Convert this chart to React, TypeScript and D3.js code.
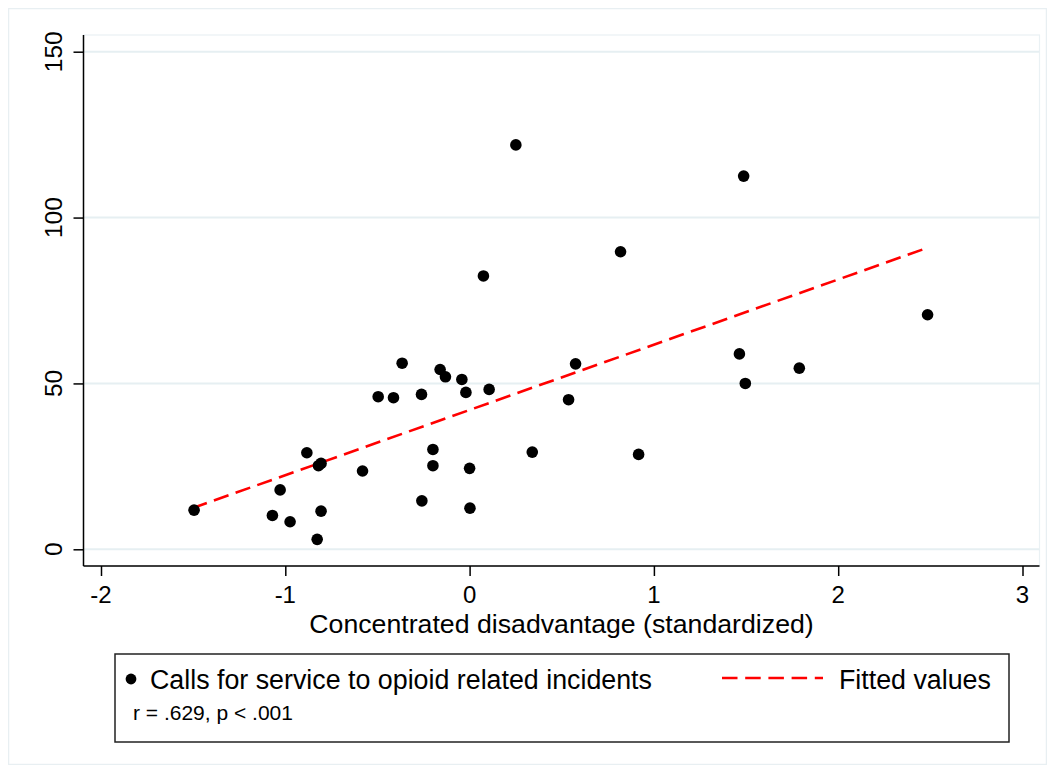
import React, { useEffect, useRef } from 'react';
import * as d3 from 'd3';

// Concentrated disadvantage (standardized)
const disadvantage = [
  -1.495, -1.07, -1.028, -0.974, -0.883, -0.827, -0.806, -0.806, -0.82, -0.581,
  -0.496, -0.413, -0.366, -0.261, -0.259, -0.199, -0.199, -0.16, -0.131, -0.042,
  -0.02, 0.0, 0.002, 0.075, 0.106, 0.251, 0.34, 0.537, 0.575, 0.819,
  0.917, 1.464, 1.487, 1.496, 1.789, 2.485,
];

// Calls for service to opioid related incidents
const calls = [
  11.8, 10.2, 17.9, 8.3, 29.1, 3.0, 11.5, 25.9, 25.2, 23.6,
  46.0, 45.7, 56.1, 46.7, 14.6, 30.1, 25.2, 54.2, 52.0, 51.2,
  47.3, 24.4, 12.4, 82.4, 48.2, 121.9, 29.3, 45.1, 55.9, 89.7,
  28.6, 58.9, 112.5, 50.0, 54.6, 70.7,
];

// Fitted values (line endpoints)
const fitX = [-1.505, 2.46];
const fitY = [12.4, 90.4];

const xTicks = [-2, -1, 0, 1, 2, 3];
const yTicks = [0, 50, 100, 150];

const FONT = '"Liberation Sans", Arial, Helvetica, sans-serif';

const App = () => {
  const svgRef = useRef<SVGSVGElement>(null);

  useEffect(() => {
    const root = d3.select(svgRef.current);
    root.selectAll('*').remove();

    // page coordinates (body margin is 8px)
    const svg = root.append('g').attr('transform', 'translate(-8,-8)');

    const plot = { left: 83.5, right: 1039.5, top: 35, bottom: 566 };

    const x = d3.scaleLinear().domain([-2, 3]).range([101, 1022.5]);
    const y = d3.scaleLinear().domain([0, 150]).range([549.3, 51.7]);

    // outer graph region border
    svg
      .append('rect')
      .attr('x', 8.5)
      .attr('y', 8.5)
      .attr('width', 1038)
      .attr('height', 756)
      .attr('fill', '#ffffff')
      .attr('stroke', '#e8eff2')
      .attr('stroke-width', 1.5);

    // plot region
    svg
      .append('rect')
      .attr('x', plot.left)
      .attr('y', plot.top)
      .attr('width', plot.right - plot.left)
      .attr('height', plot.bottom - plot.top)
      .attr('fill', '#ffffff')
      .attr('stroke', '#eaf1f4')
      .attr('stroke-width', 1.2);

    // grid lines
    svg
      .selectAll('.grid')
      .data(yTicks)
      .enter()
      .append('line')
      .attr('x1', plot.left)
      .attr('x2', plot.right)
      .attr('y1', (d) => y(d))
      .attr('y2', (d) => y(d))
      .attr('stroke', '#e6eff2')
      .attr('stroke-width', 2);

    // fitted line
    const line = d3
      .line<number>()
      .x((d) => x(d))
      .y((_, i) => y(fitY[i]));

    svg
      .append('path')
      .datum(fitX)
      .attr('d', line)
      .attr('fill', 'none')
      .attr('stroke', '#ff0000')
      .attr('stroke-width', 2.6)
      .attr('stroke-dasharray', '15.5 7.5');

    // points
    svg
      .selectAll('.dot')
      .data(disadvantage)
      .enter()
      .append('circle')
      .attr('cx', (d) => x(d))
      .attr('cy', (_, i) => y(calls[i]))
      .attr('r', 5.8)
      .attr('fill', '#000000');

    // axes
    const yAxis = svg.append('g').attr('transform', `translate(${plot.left},0)`);
    yAxis.call(d3.axisLeft(y).tickValues(yTicks).tickSize(10).tickFormat(() => ''));
    yAxis.select('.domain').attr('d', `M0,${plot.top}V${plot.bottom}`);

    const xAxis = svg.append('g').attr('transform', `translate(0,${plot.bottom})`);
    xAxis.call(d3.axisBottom(x).tickValues(xTicks).tickSize(10).tickFormat(() => ''));
    xAxis.select('.domain').attr('d', `M${plot.left},0H${plot.right}`);

    svg.selectAll('.domain, .tick line').attr('stroke', '#000').attr('stroke-width', 1.5);

    // y tick labels (rotated)
    svg
      .selectAll('.ylab')
      .data(yTicks)
      .enter()
      .append('text')
      .attr('transform', (d) => `translate(62,${y(d)}) rotate(-90)`)
      .attr('text-anchor', 'middle')
      .attr('font-family', FONT)
      .attr('font-size', 24.5)
      .attr('fill', '#000')
      .text((d) => d);

    // x tick labels
    svg
      .selectAll('.xlab')
      .data(xTicks)
      .enter()
      .append('text')
      .attr('x', (d) => x(d))
      .attr('y', 603)
      .attr('text-anchor', 'middle')
      .attr('font-family', FONT)
      .attr('font-size', 24)
      .attr('fill', '#000')
      .text((d) => d);

    // x axis title
    svg
      .append('text')
      .attr('x', (plot.left + plot.right) / 2)
      .attr('y', 633)
      .attr('text-anchor', 'middle')
      .attr('font-family', FONT)
      .attr('font-size', 26.7)
      .attr('fill', '#000')
      .text('Concentrated disadvantage (standardized)');

    // legend
    const legend = svg.append('g');
    legend
      .append('rect')
      .attr('x', 115)
      .attr('y', 654)
      .attr('width', 894)
      .attr('height', 88)
      .attr('fill', '#ffffff')
      .attr('stroke', '#222')
      .attr('stroke-width', 1.5);

    legend.append('circle').attr('cx', 131).attr('cy', 679).attr('r', 5.4).attr('fill', '#000');

    legend
      .append('text')
      .attr('x', 150)
      .attr('y', 689)
      .attr('font-family', FONT)
      .attr('font-size', 26.8)
      .attr('fill', '#000')
      .text('Calls for service to opioid related incidents');

    legend
      .append('line')
      .attr('x1', 722)
      .attr('x2', 823)
      .attr('y1', 678)
      .attr('y2', 678)
      .attr('stroke', '#ff0000')
      .attr('stroke-width', 2.6)
      .attr('stroke-dasharray', '15.5 7.7');

    legend
      .append('text')
      .attr('x', 839)
      .attr('y', 689)
      .attr('font-family', FONT)
      .attr('font-size', 26.8)
      .attr('fill', '#000')
      .text('Fitted values');

    legend
      .append('text')
      .attr('x', 133)
      .attr('y', 720)
      .attr('font-family', FONT)
      .attr('font-size', 21)
      .attr('fill', '#000')
      .text('r = .629, p < .001');
  }, []);

  return <svg ref={svgRef} width={1039} height={757} style={{ display: 'block' }}></svg>;
};

export default App;
